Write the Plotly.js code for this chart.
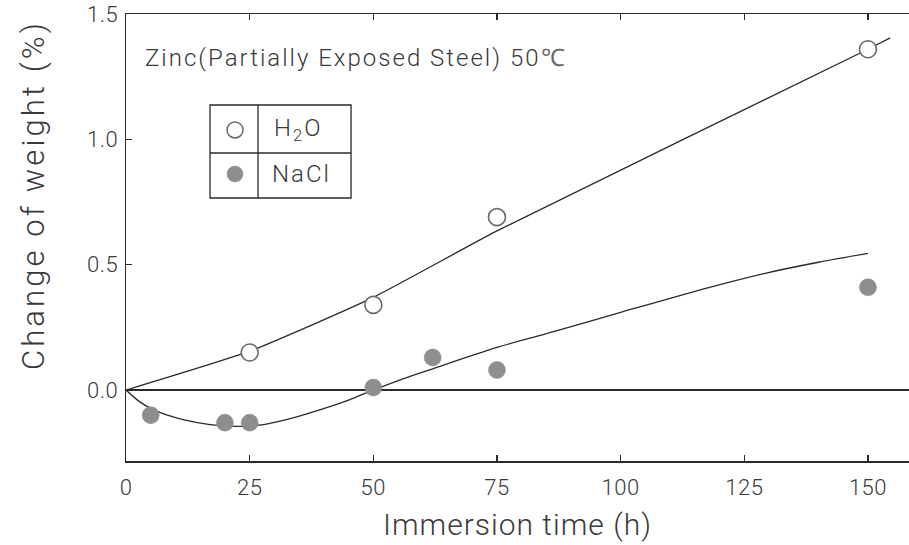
<!DOCTYPE html>
<html>
<head>
<meta charset="utf-8">
<script src="https://cdn.plot.ly/plotly-3.0.1.min.js"></script>
<style>
  html, body { margin: 0; padding: 0; background: #fff; }
  #chart { width: 909px; height: 545px; }
  .xtick text, .ytick text { letter-spacing: 0.5px; }
  .xtitle { letter-spacing: 1px; }
  .annotation-text { letter-spacing: 2px; }
  g.annotation[data-index="3"] .annotation-text { letter-spacing: 3.1px; }
</style>
</head>
<body>
<div id="chart"></div>
<script>
// Measured weight change of zinc coating (partially exposed steel) at 50 °C
const hoursH2O = [25, 50, 75, 150];
const weightH2O = [0.15, 0.34, 0.69, 1.36];

const hoursNaCl = [5, 20, 25, 50, 62, 75, 150];
const weightNaCl = [-0.10, -0.13, -0.13, 0.01, 0.13, 0.08, 0.41];

// Hand-drawn trend curves through each series
const fitH2OX = [0, 25, 50, 75, 150, 154.5];
const fitH2OY = [0, 0.155, 0.37, 0.635, 1.36, 1.405];

const fitNaClX = [0, 3, 7, 12, 17, 22, 27, 33, 39, 45, 50, 56, 62, 75, 85, 100, 118, 129, 140, 150];
const fitNaClY = [0, -0.05, -0.09, -0.12, -0.138, -0.145, -0.14, -0.115, -0.08, -0.04, 0, 0.045, 0.085, 0.17, 0.225, 0.31, 0.41, 0.465, 0.51, 0.545];

const xTicks = [0, 25, 50, 75, 100, 125, 150];
const yTicks = [0, 0.5, 1.0, 1.5];
const yTickText = ['0.0', '0.5', '1.0', '1.5'];

const FONT = 'Roboto, "Liberation Sans", sans-serif';
const TEXT = '#3a3a3a';
const INK = '#2a2a2a';
const DOT = '#8e8e8e';

const traces = [
  { x: fitH2OX, y: fitH2OY, mode: 'lines', line: { color: INK, width: 1.3, shape: 'spline', smoothing: 0.5 }, hoverinfo: 'skip', showlegend: false },
  { x: fitNaClX, y: fitNaClY, mode: 'lines', line: { color: INK, width: 1.3, shape: 'spline', smoothing: 0.8 }, hoverinfo: 'skip', showlegend: false },
  { x: hoursH2O, y: weightH2O, mode: 'markers', name: 'H2O',
    marker: { symbol: 'circle', size: 17, color: '#ffffff', line: { color: '#6a6a6a', width: 1.6 } }, showlegend: false },
  { x: hoursNaCl, y: weightNaCl, mode: 'markers', name: 'NaCl',
    marker: { symbol: 'circle', size: 17, color: DOT, line: { color: '#888', width: 0.5 } }, showlegend: false }
];

// Boxed key in the upper left of the plot
const keyLine = { color: INK, width: 1.3 };
const shapes = [
  { type: 'rect', xref: 'paper', yref: 'paper', x0: 0.1073, x1: 0.2874, y0: 0.5884, y1: 0.7964, line: keyLine },
  { type: 'line', xref: 'paper', yref: 'paper', x0: 0.1686, x1: 0.1686, y0: 0.5884, y1: 0.7964, line: keyLine },
  { type: 'line', xref: 'paper', yref: 'paper', x0: 0.1073, x1: 0.2874, y0: 0.689, y1: 0.689, line: keyLine },
  { type: 'circle', xref: 'paper', yref: 'paper', xsizemode: 'pixel', ysizemode: 'pixel',
    xanchor: 0.1392, yanchor: 0.7405, x0: -8, x1: 8, y0: -8, y1: 8,
    line: { color: '#6a6a6a', width: 1.5 }, fillcolor: '#ffffff' },
  { type: 'circle', xref: 'paper', yref: 'paper', xsizemode: 'pixel', ysizemode: 'pixel',
    xanchor: 0.1392, yanchor: 0.642, x0: -8, x1: 8, y0: -8, y1: 8,
    line: { color: DOT, width: 0.5 }, fillcolor: DOT }
];

const labelFont = { family: FONT, size: 24, color: TEXT, weight: 300 };
const annotations = [
  { text: 'Zinc(Partially Exposed Steel) 50<span style="color:#6a6a6a">℃</span>', xref: 'paper', yref: 'paper', x: 0.0217, y: 0.9016,
    xanchor: 'left', yanchor: 'middle', showarrow: false, font: labelFont },
  { text: 'H<sub>2</sub>O', xref: 'paper', yref: 'paper', x: 0.2197, y: 0.7405,
    xanchor: 'center', yanchor: 'middle', showarrow: false, font: labelFont },
  { text: 'NaCl', xref: 'paper', yref: 'paper', x: 0.2235, y: 0.642,
    xanchor: 'center', yanchor: 'middle', showarrow: false, font: labelFont },
  // vertical axis title, placed beside the value labels
  { text: 'Change of weight (%)', xref: 'paper', yref: 'paper', x: 0, y: 0.595, xshift: -93,
    xanchor: 'center', yanchor: 'middle', textangle: -90, showarrow: false,
    font: { family: FONT, size: 31, color: TEXT, weight: 300 } }
];

const layout = {
  width: 909, height: 545,
  margin: { l: 126, r: 0, t: 14, b: 84 },
  paper_bgcolor: '#ffffff', plot_bgcolor: '#ffffff',
  showlegend: false,
  xaxis: {
    range: [0, 158.3],
    tickvals: xTicks, ticktext: xTicks.map(String),
    ticks: 'inside', ticklen: 6, tickwidth: 1.2, tickcolor: INK,
    showline: true, linecolor: INK, linewidth: 1.5, mirror: 'ticks',
    showgrid: false, zeroline: false,
    tickfont: { family: FONT, size: 22, color: TEXT, weight: 300 },
    ticklabelstandoff: 6,
    title: { text: 'Immersion time (h)', font: { family: FONT, size: 30, color: TEXT, weight: 300 }, standoff: 15 }
  },
  yaxis: {
    range: [-0.283, 1.5005],
    tickvals: yTicks, ticktext: yTickText,
    ticks: 'inside', ticklen: 6, tickwidth: 1.2, tickcolor: INK,
    showline: true, linecolor: INK, linewidth: 1.5, mirror: false,
    showgrid: false,
    zeroline: true, zerolinecolor: INK, zerolinewidth: 1.3,
    tickfont: { family: FONT, size: 22, color: TEXT, weight: 300 },
    ticklabelstandoff: 2
  },
  shapes: shapes,
  annotations: annotations
};

Plotly.newPlot('chart', traces, layout, { staticPlot: true, displayModeBar: false });
</script>
</body>
</html>
